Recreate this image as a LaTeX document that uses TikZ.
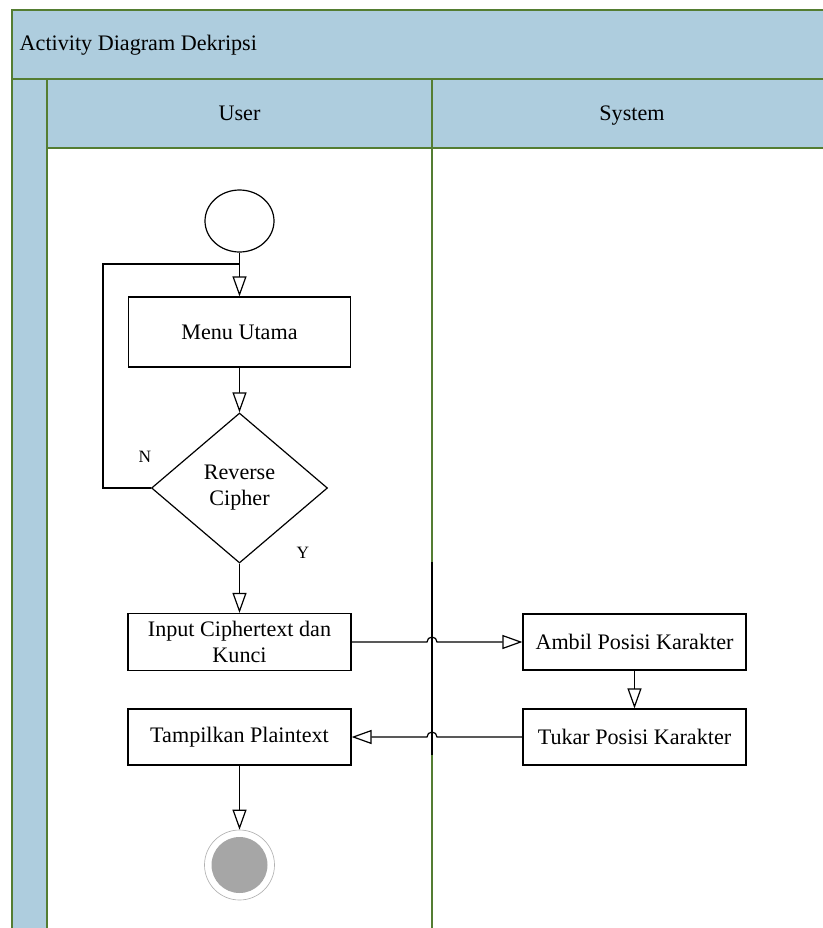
\documentclass[tikz,border=0pt]{standalone}
\usepackage{fontspec}
\setmainfont{Liberation Serif}
\usetikzlibrary{arrows.meta}
\usetikzlibrary{shapes.geometric}
\definecolor{laneblue}{RGB}{174,205,222}
\definecolor{lanegreen}{RGB}{84,125,50}
\definecolor{endgray}{RGB}{166,166,166}
\def\px{0.75pt}

\begin{document}
\begin{tikzpicture}[
    x=\px, y=-\px,
    every node/.style={font=\fontsize{16.6}{19.5}\selectfont},
    band/.style={
      fill=laneblue, draw=lanegreen, line width=1.5pt
    },
    actbox/.style={
      draw, line width=0.9pt, rectangle, inner sep=0pt, align=center,
      minimum width=223*\px, minimum height=56*\px
    },
    flow/.style={
      line width=0.9pt, -{Triangle[length=15pt, width=10.5pt, fill=white]}
    },
    wire/.style={line width=0.9pt},
    guard/.style={font=\fontsize{13}{15}\selectfont}
  ]
    \useasboundingbox (0,0) rectangle (822,928);

    \path[band] (12,10) rectangle (840,79);
    \path[band] (12,79) rectangle (47,940);
    \path[band] (47,79) rectangle (840,148);
    \draw[lanegreen, line width=1.5pt] (432,79) -- (432,940);

    \node[anchor=west] (title) at (15,45) {Activity Diagram Dekripsi};
    \node[anchor=base] (laneUser) at (239.5,120) {User};
    \node[anchor=base] (laneSystem) at (632,120) {System};

    \node[ellipse, draw, line width=0.9pt, minimum width=69*\px, minimum height=62*\px] (start) at (239.5,221) {};
    \node[actbox, minimum width=222*\px, minimum height=70*\px] (menu) at (239.5,332) {Menu Utama};
    \node[diamond, draw, line width=0.9pt, inner sep=0pt, align=center,
      minimum width=176*\px, minimum height=150*\px] (cipher) at (239.5,488) {Reverse\\Cipher};
    \node[actbox, minimum height=57*\px] (input) at (239.5,642) {Input Ciphertext dan\\Kunci};
    \node[actbox] (show) at (239.5,737) {Tampilkan Plaintext};
    \node[actbox] (take) at (634.5,642) {Ambil Posisi Karakter};
    \node[actbox] (swap) at (634.5,737) {Tukar Posisi Karakter};
    \node[circle, draw=gray!60, line width=0.5pt, minimum size=70*\px,
      path picture={\fill[endgray] (path picture bounding box.center) circle[radius=28*\px];}] (stop) at (239.5,865) {};

    \node[guard] (labelN) at (145,457) {N};
    \node[guard] (labelY) at (303,553) {Y};

    \coordinate (loopCorner) at (103,264);
    \coordinate (loopJoin) at (239.5,264);
    \coordinate (barTop) at (432,562);
    \coordinate (barBottom) at (432,755);
    \coordinate (hopRight) at (427,642);
    \coordinate (hopLeft) at (437,737);

    \draw[wire] (barTop) -- (barBottom);
    \draw[flow] (start) -- (menu);
    \draw[wire] (cipher.west) -| (loopCorner) -- (loopJoin);
    \draw[flow] (menu) -- (cipher);
    \draw[flow] (cipher) -- (input);
    \draw[flow] (input.east) -- (hopRight) arc[start angle=180, end angle=0, radius=5*\px] -- (take.west);
    \draw[flow] (take) -- (swap);
    \draw[flow] (swap.west) -- (hopLeft) arc[start angle=0, end angle=180, radius=5*\px] -- (show.east);
    \draw[flow] (show) -- (stop);
  \end{tikzpicture}
\end{document}
